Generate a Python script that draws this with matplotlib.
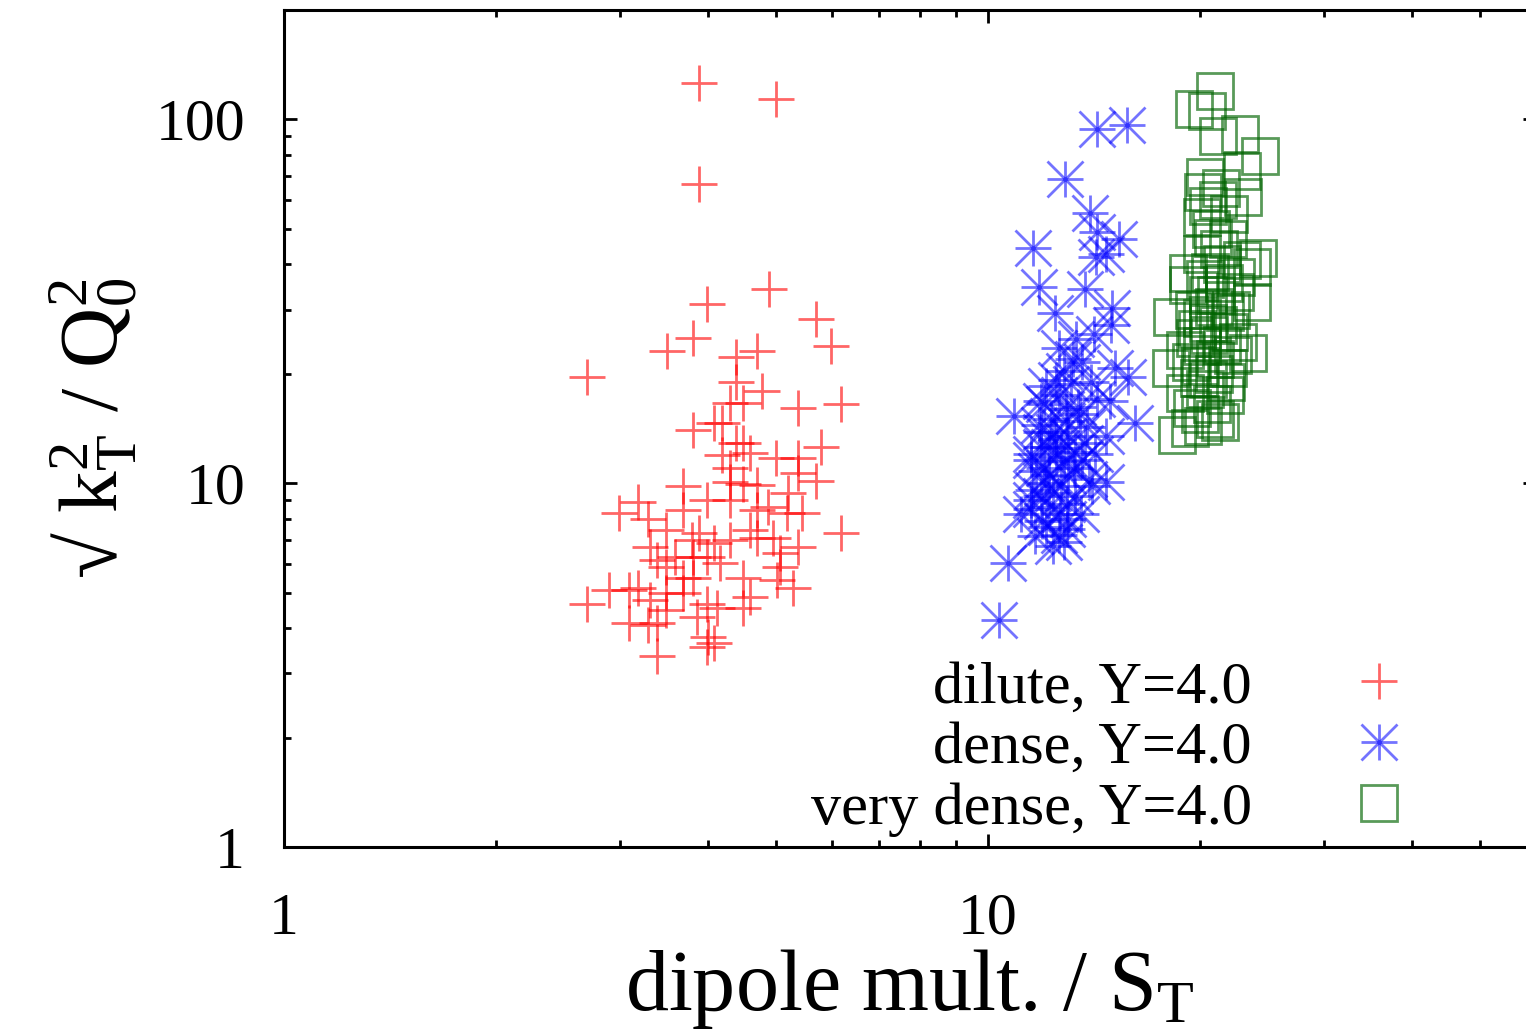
import numpy as np
import matplotlib
matplotlib.use("Agg")
import matplotlib.pyplot as plt
from matplotlib.ticker import LogLocator, FuncFormatter, NullFormatter
from matplotlib.legend_handler import HandlerTuple

plt.rcParams['font.family'] = ['Liberation Serif', 'DejaVu Serif']
plt.rcParams['mathtext.fontset'] = 'custom'
plt.rcParams['mathtext.rm'] = 'Liberation Serif'
plt.rcParams['mathtext.it'] = 'Liberation Serif:italic'
plt.rcParams['mathtext.default'] = 'regular'

# ---------------- data ----------------
dilute_x = [3.89, 5.0, 3.89, 3.99, 4.887, 5.697, 5.984, 3.81, 3.50, 2.695,
            4.39, 4.698, 4.39, 4.775, 4.487, 4.295, 5.37, 6.183, 3.81, 4.074,
            4.19, 5.791, 4.39, 4.487, 4.59, 4.19, 4.295, 5.0, 5.37, 5.37,
            5.697, 5.199, 4.698, 4.487, 4.295, 3.99, 3.688, 3.688, 3.183, 2.991,
            3.284, 6.183, 5.443, 5.182, 4.87, 4.698, 4.295, 4.59, 4.95, 5.37,
            5.065, 4.698, 4.295, 4.074, 3.89, 3.798, 3.489, 3.311, 3.388, 3.489,
            3.593, 3.81, 3.99, 4.163, 3.81, 3.688, 4.487, 4.59, 4.487, 5.016,
            5.065, 5.284, 3.99, 4.121, 3.861, 4.004, 4.074, 3.99, 3.388, 3.388,
            3.284, 3.091, 3.489, 3.311, 3.183, 3.091, 2.894, 2.695, 3.688, 3.489]
dilute_y = [125.6, 113.5, 66.3, 31.2, 34.1, 28.2, 23.8, 25.0, 23.05, 19.55,
            22.2, 23.05, 18.95, 17.9, 16.6, 16.6, 16.07, 16.5, 13.98, 14.62,
            14.62, 12.56, 12.88, 12.88, 12.09, 11.94, 11.0, 11.75, 11.75, 10.65,
            10.13, 9.39, 9.87, 9.94, 10.06, 8.98, 9.81, 8.43, 8.87, 8.27,
            7.96, 7.29, 8.27, 8.27, 8.59, 8.43, 8.98, 7.43, 7.06, 6.69,
            6.42, 7.06, 6.97, 6.84, 7.29, 6.97, 7.43, 6.69, 6.14, 5.88,
            6.26, 6.26, 6.26, 6.03, 5.50, 5.50, 5.50, 4.86, 4.55, 5.41,
            5.88, 5.16, 4.67, 4.55, 4.28, 3.78, 3.63, 3.54, 3.35, 4.14,
            4.07, 4.14, 4.48, 4.77, 5.16, 5.08, 5.08, 4.67, 4.99, 4.99]

dense_x = [14.28, 15.76, 12.86, 13.96, 14.28, 15.35, 14.71, 14.24, 11.59, 11.82,
           13.74, 12.45, 15.0, 14.95, 14.14, 13.34, 15.15, 15.81, 12.82, 12.09,
           10.89, 16.18, 14.71, 12.95, 13.42, 13.74, 12.49, 11.51, 12.82, 12.21,
           13.25, 14.71, 14.05, 12.37, 11.51, 12.95, 11.14, 11.93, 13.56, 12.66,
           11.66, 12.37, 12.95, 10.68, 10.36,
           12.0, 12.6, 13.1, 12.3, 11.9, 13.0, 13.5, 12.7, 12.2, 12.0,
           12.5, 13.0, 13.6, 12.1, 11.6, 12.7, 13.3, 11.9, 12.2, 13.0,
           11.7, 12.1, 12.6, 11.5, 13.8, 14.3, 13.2, 12.6, 14.0, 11.9,
           12.9, 12.4, 13.3, 11.9, 14.2, 14.9, 12.5, 13.6, 11.8, 12.8,
           13.9, 11.5]
dense_y = [93.9, 96.3, 68.4, 55.2, 49.2, 46.8, 42.6, 41.8, 44.2, 34.6,
           34.3, 29.3, 30.3, 27.3, 25.7, 24.9, 20.7, 19.55, 20.3, 18.48,
           15.28, 14.62, 13.46, 14.8, 16.18, 12.88, 13.21, 12.02, 11.49, 10.52,
           11.0, 10.06, 9.81, 9.39, 8.98, 8.76, 8.22, 7.86, 8.22, 8.22,
           7.15, 6.71, 7.47, 6.03, 4.20,
           16.5, 17.5, 18.8, 15.0, 13.8, 13.5, 15.5, 12.5, 12.6, 11.0,
           11.8, 10.5, 11.6, 10.0, 9.6, 9.8, 9.2, 9.2, 8.6, 8.0,
           10.8, 7.6, 7.2, 8.5, 14.3, 17.0, 22.0, 23.5, 19.0, 16.8,
           16.0, 13.8, 12.2, 12.6, 12.0, 16.8, 19.2, 21.5, 14.5, 6.9,
           10.3, 11.6]

vdense_x = [21.01, 19.62, 20.47, 21.22, 22.8, 24.34, 20.34, 22.95, 20.2, 21.22,
            23.02, 20.14, 20.88, 20.14, 22.95, 23.71, 19.24, 20.67, 18.26, 23.71,
            19.24, 20.54, 21.71, 19.05, 18.2, 20.14, 22.66, 23.4, 19.05, 20.34,
            21.71, 18.56, 19.36, 20.2, 21.36, 19.49, 20.54, 21.93, 21.22, 20.14,
            22.44, 24.18,
            20.6, 21.0, 20.0, 21.5, 19.8, 20.9, 21.6, 20.3, 21.3, 20.7,
            21.5, 19.6, 22.0, 20.8, 19.9, 21.8, 22.3, 20.5, 21.1, 19.4,
            20.9, 22.1, 21.4, 22.0, 20.5, 21.9, 20.0, 21.0, 22.5, 19.7]
vdense_y = [119.4, 107.2, 105.8, 89.8, 91.5, 79.6, 69.3, 72.4, 63.0, 59.9,
            61.1, 53.8, 47.1, 42.8, 41.0, 39.2, 37.8, 38.0, 28.6, 31.4,
            35.0, 32.9, 29.5, 23.2, 20.7, 23.9, 24.4, 22.8, 17.7, 18.2,
            17.5, 13.55, 14.2, 14.4, 14.7, 16.1, 19.4, 20.7, 27.2, 28.4,
            33.5, 41.5,
            25.5, 22.0, 21.0, 24.0, 26.5, 30.5, 35.5, 36.5, 44.0, 50.0,
            40.0, 30.0, 26.0, 16.5, 19.5, 19.0, 22.5, 27.5, 33.0, 21.5,
            20.0, 30.0, 65.0, 55.0, 58.0, 47.0, 15.5, 15.0, 37.0, 25.0]

labels = ["dilute, Y=4.0", "dense, Y=4.0", "very dense, Y=4.0"]
x_ticks = [1, 10]
y_ticks = [1, 10, 100]

# ---------------- figure ----------------
W, H = 1526, 1033
fig = plt.figure(figsize=(W / 100, H / 100), dpi=100)
ax = fig.add_axes([284 / W, 1 - 847 / H, (1536 - 284) / W, (847 - 10) / H])

ms = 26
mew = 2.0
l1, = ax.plot(dilute_x, dilute_y, ls='none', marker='+', ms=ms, mew=mew,
              color='#ff0000', alpha=0.6)
l2a, = ax.plot(dense_x, dense_y, ls='none', marker='+', ms=ms, mew=mew,
               color='#0000ff', alpha=0.55)
l2b, = ax.plot(dense_x, dense_y, ls='none', marker='x', ms=ms, mew=mew,
               color='#0000ff', alpha=0.55)
l3, = ax.plot(vdense_x, vdense_y, ls='none', marker='s', ms=ms, mew=mew,
              mfc='none', color='#006400', alpha=0.65)

ax.set_xscale('log')
ax.set_yscale('log')
ax.set_xlim(1, 60)
ax.set_ylim(1, 200)

fmt = FuncFormatter(lambda v, p: f"{v:g}")
ax.set_xticks(x_ticks)
ax.set_yticks(y_ticks)
ax.xaxis.set_major_formatter(fmt)
ax.yaxis.set_major_formatter(fmt)
ax.xaxis.set_minor_locator(LogLocator(base=10, subs=np.arange(2, 10), numticks=20))
ax.yaxis.set_minor_locator(LogLocator(base=10, subs=np.arange(2, 10), numticks=20))
ax.xaxis.set_minor_formatter(NullFormatter())
ax.yaxis.set_minor_formatter(NullFormatter())

ax.tick_params(which='both', direction='in', top=True, right=True, width=2.0, color='black')
ax.tick_params(which='major', length=9.5)
ax.tick_params(which='minor', length=5)
ax.tick_params(axis='y', which='major', pad=28, labelsize=43)
ax.tick_params(axis='x', which='major', pad=33, labelsize=43)
for s in ax.spines.values():
    s.set_linewidth(2.2)

ax.set_xlabel(r"dipole mult. / S$_{\mathrm{T}}$", fontsize=62)
ax.set_ylabel(r"√ k$_{\mathrm{T}}^{2}$ / Q$_{0}^{2}$", fontsize=60)
ax.xaxis.set_label_coords(0.5, -0.12)
ax.yaxis.set_label_coords(-0.116, 0.5)

leg = ax.legend([l1, (l2a, l2b), l3], labels,
                handler_map={tuple: HandlerTuple(ndivide=1, pad=0)},
                markerfirst=False, frameon=False, fontsize=43.5,
                loc='lower right', bbox_to_anchor=(0.9226, 0.012),
                borderpad=0, borderaxespad=0, handlelength=2.0,
                handletextpad=1.1, labelspacing=0.09)

fig.savefig("out.png", dpi=100)
